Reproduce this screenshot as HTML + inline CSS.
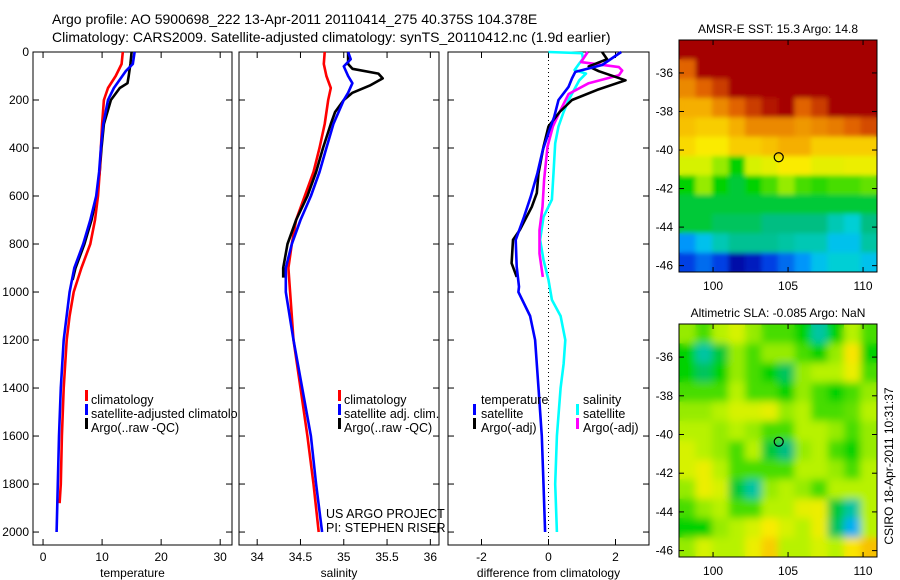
<!DOCTYPE html>
<html><head><meta charset="utf-8"><style>
body{margin:0;background:#fff;}
svg{display:block;font-family:"Liberation Sans",sans-serif;}
text{fill:#000;}
</style></head><body>
<svg id="c" width="900" height="580" viewBox="0 0 900 580">
<defs>
<filter id="blurS" x="-5%" y="-5%" width="110%" height="110%"><feGaussianBlur stdDeviation="2.5"/></filter>
<filter id="blurL" x="-5%" y="-5%" width="110%" height="110%"><feGaussianBlur stdDeviation="4"/></filter>
</defs>
<text x="52" y="24" font-size="14">Argo profile: AO 5900698_222 13-Apr-2011 20110414_275 40.375S 104.378E</text>
<text x="52" y="42" font-size="14">Climatology: CARS2009. Satellite-adjusted climatology: synTS_20110412.nc (1.9d earlier)</text>
</svg>
<script>
// ---------- data ----------
const tempClimD=[0,50,100,150,200,300,400,500,600,700,800,900,1000,1100,1200,1400,1600,1800,1880];
const tempClimV=[13.5,13.3,12.3,11,10.3,10.0,9.8,9.6,9.3,8.8,8,6.5,5.2,4.5,4.0,3.5,3.2,3.0,2.8];
const tempSatD=[0,50,80,150,200,300,400,500,600,700,800,900,1000,1200,1400,1600,1800,2000];
const tempSatV=[15.5,15.2,14,12,11,10.2,9.8,9.5,9,8,6.8,5.3,4.5,3.5,3.0,2.7,2.5,2.3];
const tempArgoD=[0,50,100,130,150,200,300,400,500,600,700,800,900,950];
const tempArgoV=[15,14.8,14.5,14.3,13,11.5,10.3,9.9,9.6,9.1,8.2,7.0,5.5,5.0];

const salClimD=[0,50,100,150,200,300,400,500,600,700,800,900,1000,1200,1400,1600,1800,2000];
const salClimV=[34.78,34.77,34.8,34.85,34.82,34.78,34.72,34.65,34.55,34.45,34.4,34.36,34.38,34.42,34.5,34.58,34.65,34.71];
const salSatD=[0,30,60,100,130,170,200,300,400,500,600,700,800,900,1000,1200,1400,1600,1800,2000];
const salSatV=[35.05,35.08,35.0,35.05,35.1,35.05,35.0,34.88,34.8,34.72,34.62,34.5,34.4,34.33,34.33,34.42,34.52,34.62,34.68,34.75];
const salArgoD=[0,50,70,90,110,140,170,200,250,300,400,500,600,700,800,900,940];
const salArgoV=[35.05,35.05,35.1,35.4,35.45,35.3,35.1,35.0,34.9,34.85,34.76,34.68,34.58,34.45,34.35,34.3,34.3];

const dTempSatD=[0,54,83,110,145,200,270,325,408,505,603,687,783,895,978,1000,1100,1200,1400,1600,1800,2000];
const dTempSatV=[2.17,1.6,0.8,0.7,0.6,0.3,0.17,0.03,-0.17,-0.33,-0.53,-0.73,-0.98,-0.95,-0.88,-0.9,-0.55,-0.4,-0.3,-0.2,-0.15,-0.1];
const dTempArgoD=[0,30,60,80,118,158,200,250,310,395,505,588,645,742,783,880,937];
const dTempArgoV=[1.6,1.75,1.2,1.5,2.3,1.45,0.7,0.33,0,-0.15,-0.3,-0.35,-0.5,-0.86,-1.06,-1.1,-0.95];
const dSalSatD=[0,5,28,55,75,90,118,200,250,310,380,505,615,687,783,866,950,1033,1100,1200,1300,1400,1600,1800,2000];
const dSalSatV=[0,1.0,1.03,0.88,0.78,1.12,0.92,0.6,0.45,0.3,0.2,0.15,0.1,-0.15,-0.25,-0.15,0,0.1,0.36,0.5,0.45,0.36,0.25,0.2,0.25];
const dSalArgoD=[0,42,63,77,97,130,175,250,310,395,533,645,742,840,937];
const dSalArgoV=[1.17,0.97,2.1,2.2,2.1,1.2,0.6,0.33,0.13,-0.03,-0.13,-0.18,-0.27,-0.27,-0.17];

const depthTicks=[0,200,400,600,800,1000,1200,1400,1600,1800,2000];
const tempTicks=[0,10,20,30];
const salTicks=[34,34.5,35,35.5,36];
const diffTicks=[-2,0,2];
const lonTicks=[100,105,110];
const latTicks=[-36,-38,-40,-42,-44,-46];

const sstGrid=[
[1,1,1,1,1,1,1,1,1,1,1,1],
[0.85,1,1,1,1,1,1,1,1,1,1,1],
[0.8,0.85,0.9,1,1,1,1,1,1,1,1,1],
[0.75,0.75,0.8,0.85,0.9,0.95,1,0.85,0.9,1,1,1],
[0.72,0.7,0.7,0.75,0.8,0.8,0.8,0.78,0.8,0.82,0.85,0.88],
[0.68,0.65,0.65,0.7,0.7,0.72,0.75,0.75,0.7,0.7,0.7,0.7],
[0.6,0.6,0.55,0.45,0.6,0.62,0.65,0.65,0.62,0.62,0.63,0.63],
[0.45,0.55,0.45,0.42,0.45,0.5,0.55,0.5,0.48,0.5,0.5,0.52],
[0.42,0.42,0.42,0.42,0.42,0.42,0.42,0.42,0.42,0.42,0.42,0.42],
[0.42,0.42,0.4,0.4,0.4,0.38,0.38,0.38,0.38,0.35,0.33,0.38],
[0.25,0.3,0.35,0.37,0.37,0.37,0.36,0.35,0.35,0.3,0.3,0.36],
[0.15,0.2,0.15,0.05,0.08,0.15,0.2,0.25,0.3,0.33,0.33,0.3]];
const slaGrid=[
[.55,.5,.57,.6,.55,.5,.5,.45,.36,.45,.57,.5],
[.45,.36,.42,.55,.5,.55,.55,.5,.45,.55,.66,.45],
[.45,.4,.45,.55,.5,.45,.4,.55,.57,.57,.63,.5],
[.5,.5,.5,.57,.5,.5,.45,.55,.5,.45,.5,.55],
[.55,.55,.57,.6,.6,.62,.55,.57,.5,.5,.52,.57],
[.57,.57,.55,.57,.55,.5,.5,.57,.57,.55,.5,.55],
[.6,.57,.55,.5,.57,.42,.38,.55,.57,.5,.45,.55],
[.6,.63,.57,.5,.5,.5,.5,.57,.57,.55,.5,.57],
[.55,.63,.6,.42,.36,.55,.57,.55,.5,.57,.57,.57],
[.5,.55,.57,.5,.5,.57,.57,.62,.63,.42,.36,.57],
[.45,.45,.55,.57,.6,.65,.6,.57,.63,.4,.28,.57],
[.55,.6,.57,.57,.63,.7,.57,.57,.6,.57,.66,.72]];
const argoLon=104.378, argoLat=-40.375;

// ---------- drawing ----------
const svg=document.getElementById('c');
const NS='http://www.w3.org/2000/svg';
function mk(t,a,parent){const e=document.createElementNS(NS,t);for(const k in a)e.setAttribute(k,a[k]);(parent||svg).appendChild(e);return e;}
function lin(d0,d1,r0,r1){return v=>r0+(v-d0)/(d1-d0)*(r1-r0);}
const yDepth=lin(0,2054,52,545);

function profilePanel(name,x0,x1,xmin,xmax,ticks,label){
  const g=mk('g',{});
  
  
  const xs=lin(xmin,xmax,x0,x1);
  const box=mk('rect',{x:x0,y:52,width:x1-x0,height:493,fill:'none',stroke:'#000','stroke-width':1},g);
  
  
  ticks.forEach(t=>{const x=xs(t);
    mk('line',{x1:x,x2:x,y1:545,y2:539,stroke:'#000'},g);
    mk('line',{x1:x,x2:x,y1:52,y2:58,stroke:'#000'},g);
    const tx=mk('text',{x:x,y:561,'font-size':12,'text-anchor':'middle'},g);tx.textContent=String(t);
    
    
  });
  depthTicks.forEach(d=>{const y=yDepth(d);
    mk('line',{x1:x0,x2:x0+6,y1:y,y2:y,stroke:'#000'},g);
    mk('line',{x1:x1,x2:x1-6,y1:y,y2:y,stroke:'#000'},g);
  });
  const xl=mk('text',{x:(x0+x1)/2,y:577,'font-size':12,'text-anchor':'middle'},g);xl.textContent=label;
  
  
  return {g,xs};
}
function series(p,ds,vs,color,name,width){
  const pts=ds.map((d,i)=>p.xs(vs[i]).toFixed(1)+','+yDepth(d).toFixed(1)).join(' ');
  const l=mk('polyline',{points:pts,fill:'none',stroke:color,'stroke-width':width||2.6,'stroke-linejoin':'round'},p.g);
  
  
}
function txt(s,x,y,name,size,extra){
  const t=mk('text',Object.assign({x:x,y:y,'font-size':size||12.5},extra||{}));t.textContent=s;
  
  
  return t;
}
function legMark(x,y,color){const r=mk('rect',{x:x,y:y-10,width:3,height:11,fill:color});
  
  }

depthTicks.forEach(d=>{
  txt(String(d),29,yDepth(d)+4,'y-tick-label',12,{'text-anchor':'end'});
});

const p1=profilePanel('temperature-panel',33,232,-1.7,32,tempTicks,'temperature');
series(p1,tempArgoD,tempArgoV,'#000','temp-argo-line');
series(p1,tempClimD,tempClimV,'#f00','temp-climatology-line');
series(p1,tempSatD,tempSatV,'#00f','temp-satellite-line');

const p2=profilePanel('salinity-panel',239,439,33.79,36.1,salTicks,'salinity');
series(p2,salClimD,salClimV,'#f00','sal-climatology-line');
series(p2,salArgoD,salArgoV,'#000','sal-argo-line');
series(p2,salSatD,salSatV,'#00f','sal-satellite-line');

const p3=profilePanel('difference-panel',448,649,-3,3,diffTicks,'difference from climatology');
const zl=mk('line',{x1:p3.xs(0),x2:p3.xs(0),y1:52,y2:545,stroke:'#000','stroke-dasharray':'1,3'},p3.g);


series(p3,dSalSatD,dSalSatV,'#0ff','diff-sal-satellite-line');
series(p3,dSalArgoD,dSalArgoV,'#f0f','diff-sal-argo-line');
series(p3,dTempArgoD,dTempArgoV,'#000','diff-temp-argo-line');
series(p3,dTempSatD,dTempSatV,'#00f','diff-temp-satellite-line');

const clip=mk('clipPath',{id:'clp1'});mk('rect',{x:0,y:0,width:238,height:580},clip);
legMark(85,400,'#f00');txt('climatology',91,404,'legend-entry');
legMark(85,414,'#00f');txt('satellite-adjusted climatology',91,418,'legend-entry',12.5,{'clip-path':'url(#clp1)'});
legMark(85,428,'#000');txt('Argo(..raw -QC)',91,432,'legend-entry');
legMark(338,400,'#f00');txt('climatology',344,404,'legend-entry');
legMark(338,414,'#00f');txt('satellite adj. clim.',344,418,'legend-entry');
legMark(338,428,'#000');txt('Argo(..raw -QC)',344,432,'legend-entry');
txt('temperature',481,404,'legend-title');
legMark(473,414,'#00f');txt('satellite',481,418,'legend-entry');
legMark(473,428,'#000');txt('Argo(-adj)',481,432,'legend-entry');
txt('salinity',583,404,'legend-title');
legMark(576,414,'#0ff');txt('satellite',583,418,'legend-entry');
legMark(576,428,'#f0f');txt('Argo(-adj)',583,432,'legend-entry');
txt('US ARGO PROJECT',326,518,'project-credit');
txt('PI: STEPHEN RISER',326,532,'pi-credit');

const stops=[[0,[0,0,130]],[0.12,[0,40,220]],[0.25,[0,150,250]],[0.32,[0,210,230]],[0.38,[0,190,130]],[0.45,[0,210,0]],[0.52,[100,225,0]],[0.58,[200,245,0]],[0.65,[250,235,0]],[0.75,[245,175,0]],[0.85,[225,100,0]],[0.95,[180,20,0]],[1,[165,0,0]]];
function cmap(v){for(let i=1;i<stops.length;i++){if(v<=stops[i][0]){const a=stops[i-1],b=stops[i];const t=(v-a[0])/(b[0]-a[0]);
  return 'rgb('+a[1].map((c,k)=>Math.round(c+(b[1][k]-c)*t)).join(',')+')';}}return 'rgb(165,0,0)';}

let clipN=0;
function mapPanel(name,y0,y1,grid,title,blurId){
  const g=mk('g',{});
  
  
  const x0=679,x1=877;
  const xs=lin(97.73,110.93,x0,x1), ys=lin(-34.29,-46.33,y0,y1);
  const rows=grid.length, cols=grid[0].length;
  const cw=(x1-x0)/cols, ch=(y1-y0)/rows;
  const cid='mclip'+(clipN++);
  const cp=mk('clipPath',{id:cid},g);mk('rect',{x:x0,y:y0,width:x1-x0,height:y1-y0},cp);
  const base=mk('g',{'clip-path':'url(#'+cid+')'},g);
  const drawCells=(parent)=>grid.forEach((row,r)=>row.forEach((v,c)=>{
    const cell=mk('rect',{x:(x0+c*cw).toFixed(2),y:(y0+r*ch).toFixed(2),width:(cw+0.6).toFixed(2),height:(ch+0.6).toFixed(2),fill:cmap(v)},parent);
    
    
  }));
  drawCells(base);
  const bl=mk('g',{filter:'url(#'+blurId+')'},base);
  drawCells(bl);
  mk('rect',{x:x0,y:y0,width:x1-x0,height:y1-y0,fill:'none',stroke:'#000'},g);
  lonTicks.forEach(t=>{const x=xs(t);
    mk('line',{x1:x,x2:x,y1:y1,y2:y1-5,stroke:'#000'},g);mk('line',{x1:x,x2:x,y1:y0,y2:y0+5,stroke:'#000'},g);
    const tt=mk('text',{x:x,y:y1+18,'font-size':12,'text-anchor':'middle'},g);tt.textContent=String(t);
    
    
  });
  latTicks.forEach(t=>{const y=ys(t);
    mk('line',{x1:x0,x2:x0+5,y1:y,y2:y,stroke:'#000'},g);mk('line',{x1:x1,x2:x1-5,y1:y,y2:y,stroke:'#000'},g);
    const tt=mk('text',{x:x0-6,y:y+4,'font-size':12,'text-anchor':'end'},g);tt.textContent=String(t);
    
    
  });
  const c=mk('circle',{cx:xs(argoLon),cy:ys(argoLat),r:4.5,fill:'none',stroke:'#000','stroke-width':1.2},g);
  
  
  const tt=mk('text',{x:(x0+x1)/2,y:y0-7,'font-size':12,'text-anchor':'middle'},g);tt.textContent=title;
  
  
}
mapPanel('sst-map',40,272,sstGrid,'AMSR-E SST: 15.3 Argo: 14.8','blurS');
mapPanel('sla-map',324,557,slaGrid,'Altimetric SLA: -0.085 Argo: NaN','blurL');
txt('CSIRO 18-Apr-2011 10:31:37',893,466,'timestamp',12,{'text-anchor':'middle',transform:'rotate(-90 893 466)'});
</script>
</body></html>
